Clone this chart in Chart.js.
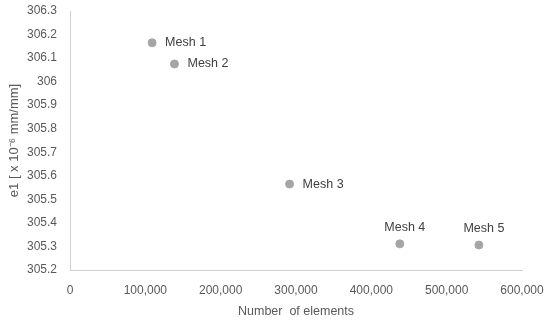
<!DOCTYPE html>
<html>
<head>
<meta charset="utf-8">
<script src="https://cdn.jsdelivr.net/npm/chart.js@4"></script>
<style>
  html, body { margin: 0; padding: 0; background: #fff; }
  #wrap { width: 550px; height: 323px; }
</style>
</head>
<body>
<div id="wrap"><canvas id="meshChart"></canvas></div>
<script>
const meshNames = ["Mesh 1", "Mesh 2", "Mesh 3", "Mesh 4", "Mesh 5"];
const elementCounts = [109000, 138700, 291500, 437800, 542800];
const e1Values = [306.165, 306.075, 305.565, 305.311, 305.306];

const FONT = "'Liberation Sans', Arial, sans-serif";

// draws the "Mesh n" text next to each point
const pointLabels = {
  id: "pointLabels",
  afterDatasetsDraw(chart, args, opts) {
    const { ctx } = chart;
    const meta = chart.getDatasetMeta(0);
    ctx.save();
    ctx.font = "12.5px " + FONT;
    ctx.fillStyle = "#404040";
    meta.data.forEach((pt, i) => {
      const place = opts.above.includes(i) ? "top" : "right";
      ctx.textBaseline = "middle";
      if (place === "top") {
        ctx.textAlign = "center";
        ctx.fillText(meshNames[i], pt.x + 5, pt.y - 16);
      } else {
        ctx.textAlign = "left";
        ctx.fillText(meshNames[i], pt.x + 13, pt.y);
      }
    });
    ctx.restore();
  }
};

const ctx = document.getElementById("meshChart");

const meshChart = new Chart(ctx, {
  type: "scatter",
  data: {
    datasets: [
      {
        label: "e1",
        data: elementCounts.map((x, i) => ({ x: x, y: e1Values[i] })),
        backgroundColor: "#a5a5a5",
        borderColor: "#a5a5a5",
        pointRadius: 4,
        pointHoverRadius: 4
      }
    ]
  },
  options: {
    responsive: true,
    maintainAspectRatio: false,
    animation: false,
    layout: {
      padding: { left: 3, right: 28, top: 11, bottom: 0 }
    },
    plugins: {
      legend: { display: false },
      tooltip: { enabled: false },
      pointLabels: { above: [3, 4] }
    },
    scales: {
      x: {
        type: "linear",
        min: 0,
        max: 600000,
        ticks: {
          stepSize: 100000,
          color: "#595959",
          padding: 13,
          font: { family: FONT, size: 12 },
          maxRotation: 0,
          callback: v => v.toLocaleString("en-US")
        },
        grid: { display: false, drawTicks: false },
        border: { color: "#d0d0d0", width: 1 },
        title: {
          display: true,
          text: "Number  of elements",
          color: "#595959",
          font: { family: FONT, size: 12.5 },
          padding: { top: 8 }
        },
        afterFit(scale) {
          scale.height = 53;
          scale.paddingLeft = 0;
          scale.paddingRight = 0;
        }
      },
      y: {
        min: 305.2,
        max: 306.3,
        ticks: {
          stepSize: 0.1,
          color: "#595959",
          padding: 13,
          font: { family: FONT, size: 12 },
          callback: v => String(Number(v.toFixed(1)))
        },
        grid: { display: false, drawTicks: false },
        border: { color: "#d0d0d0", width: 1 },
        title: {
          display: true,
          text: "e1 [ x 10\u207B\u2076 mm/mm]",
          color: "#595959",
          font: { family: FONT, size: 13 },
          padding: { bottom: 2 }
        },
        afterFit(scale) {
          scale.width = 67;
          scale.paddingTop = 0;
          scale.paddingBottom = 0;
        }
      }
    }
  },
  plugins: [pointLabels]
});
</script>
</body>
</html>
